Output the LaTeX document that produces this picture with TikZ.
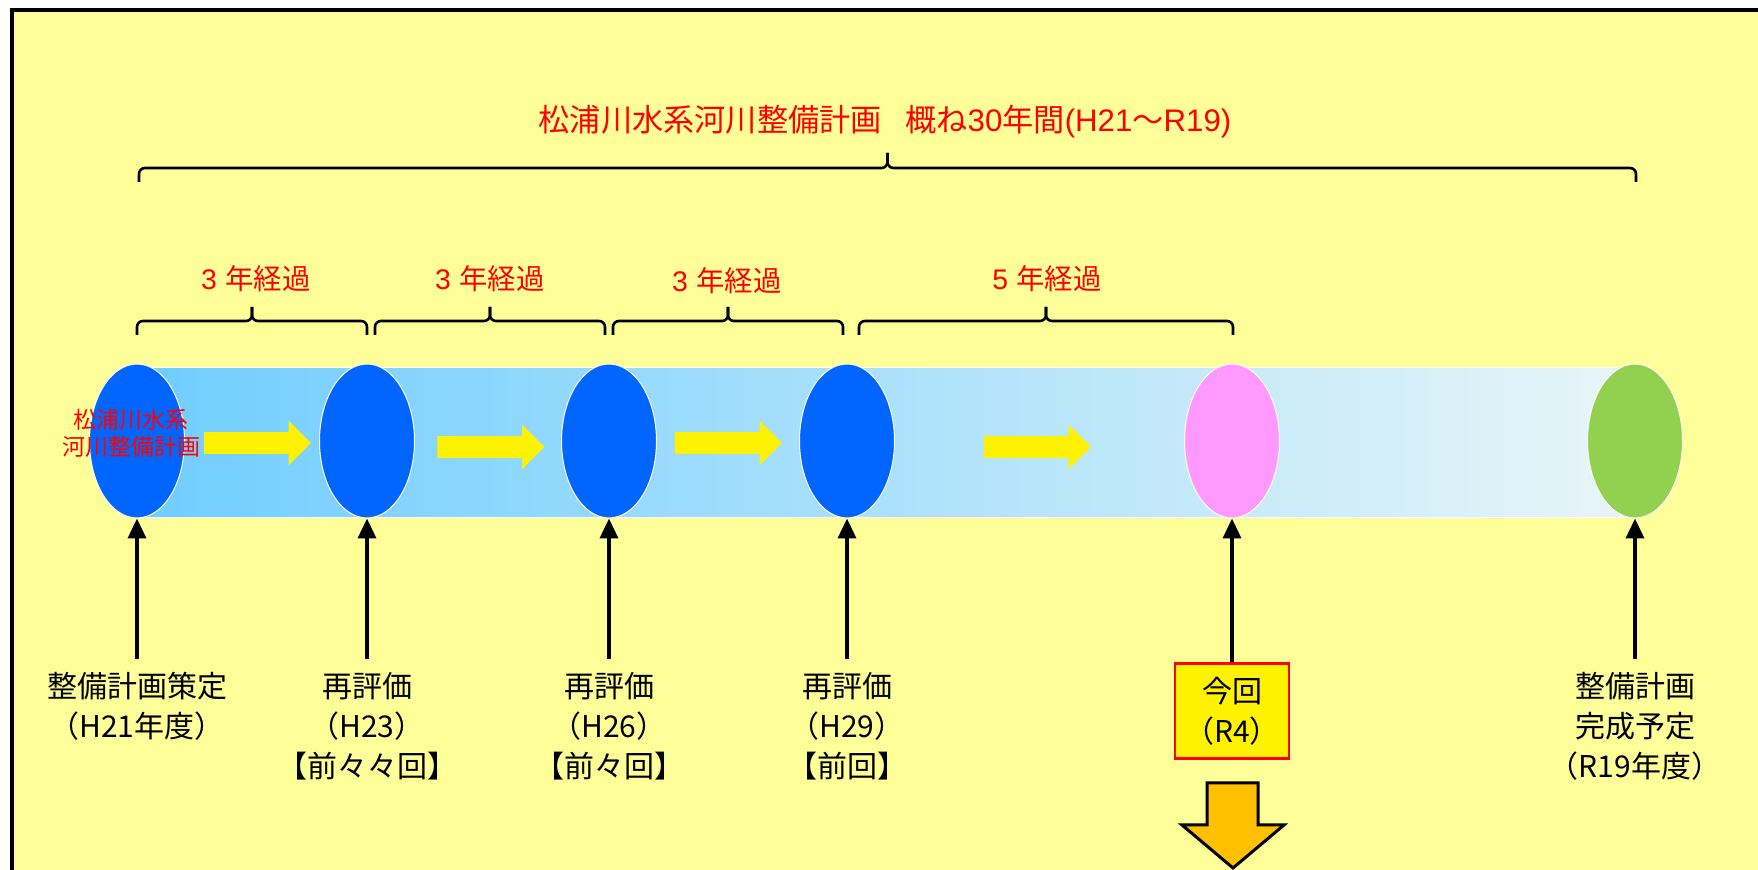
\documentclass[tikz,border=0pt]{standalone}
\usepackage{fontspec}
\setmainfont{Noto Sans CJK JP}
\newfontfamily\latf{Liberation Sans}
\usetikzlibrary{arrows.meta,shapes.geometric,shapes.arrows}
\definecolor{bgyellow}{HTML}{FFFF99}
\definecolor{eblue}{HTML}{0066FF}
\definecolor{epink}{HTML}{FF99FF}
\definecolor{egreen}{HTML}{92D050}
\definecolor{tubeL}{HTML}{70CDFF}
\definecolor{tubeR}{HTML}{E8F5F7}
\definecolor{orangeA}{HTML}{FFC000}
\newcommand\tlbrace[5]{%
  \draw[bracestyle] (#1,#3+#4) -- (#1,#3) -- ({(#1+#2)/2},#3) -- ({(#1+#2)/2},#3-#5);
  \draw[bracestyle] ({(#1+#2)/2},#3-#5) -- ({(#1+#2)/2},#3) -- (#2,#3) -- (#2,#3+#4);}
\begin{document}
\begin{tikzpicture}[x=0.5pt,y=-0.5pt,
  ell/.style={ellipse, minimum width=47.5pt, minimum height=77pt, inner sep=0pt, draw=white, line width=0.5pt},
  yarrow/.style={single arrow, fill=yellow, draw=none, inner xsep=0pt, inner ysep=5.25pt,
     single arrow head extend=5.75pt, minimum height=53.5pt, single arrow tip angle=90},
  varrow/.style={line width=1.8pt, -{Triangle[width=9pt,length=10pt]}},
  lab/.style={font=\fontsize{15pt}{20pt}\selectfont, align=center, inner sep=0pt, anchor=north},
  redlab/.style={text=red, font=\fontsize{14.2pt}{16pt}\selectfont, inner sep=0pt},
  bracestyle/.style={line width=1.3pt, rounded corners=3pt},
  nowbox/.style={draw=red, fill=yellow, line width=1.2pt, minimum width=57pt, minimum height=47.5pt,
     align=center, inner sep=0pt, font=\fontsize{15pt}{20pt}\selectfont}]
\useasboundingbox (0,0) rectangle (1758,870);
\clip (0,0) rectangle (1758,870);
\fill[white] (0,0) rectangle (1758,870);
\draw[line width=2.2pt, fill=bgyellow] (12,10) rectangle (1800,920);

% title and braces
\node[text=red, font=\fontsize{15.6pt}{18pt}\selectfont, inner sep=0pt] (title) at (885,122)
  {松浦川水系河川整備計画\hspace{0.75em}概ね{\latf 30}年間{\latf (H21}～{\latf R19)}};
\tlbrace{139}{1636}{168}{14}{15}
\tlbrace{137}{367}{321}{14}{14}
\tlbrace{375}{605}{321}{14}{14}
\tlbrace{613}{843}{321}{14}{14}
\tlbrace{859}{1233}{321}{14}{14}
\node[redlab] (p1) at (256,279) {{\latf 3}\hspace{0.3em}年経過};
\node[redlab] (p2) at (490,279) {{\latf 3}\hspace{0.3em}年経過};
\node[redlab] (p3) at (727,281) {{\latf 3}\hspace{0.3em}年経過};
\node[redlab] (p4) at (1047,279) {{\latf 5}\hspace{0.3em}年経過};

% tube
\draw[white, line width=0.5pt, left color=tubeL, right color=tubeR] (137,368) rectangle (1635,518);

% ellipses
\node[ell, fill=eblue] (e1) at (137,441) {};
\node[ell, fill=eblue] (e2) at (367,441) {};
\node[ell, fill=eblue] (e3) at (609,441) {};
\node[ell, fill=eblue] (e4) at (847,441) {};
\node[ell, fill=epink] (e5) at (1232,441) {};
\node[ell, fill=egreen] (e6) at (1635,441) {};

\node[text=red, font=\fontsize{11.5pt}{13.5pt}\selectfont, align=center, inner sep=0pt] (t1) at (131,433)
  {松浦川水系\\河川整備計画};

% yellow arrows
\node[yarrow] (ya1) at (252,443) {};
\node[yarrow] (ya2) at (485.5,447) {};
\node[yarrow] (ya3) at (723,443) {};
\node[yarrow] (ya4) at (1032,447) {};

% labels
\node[lab] (l1) at (137,672) {整備計画策定\\（H21年度）};
\node[lab] (l2) at (367,672) {再評価\\（H23）\\【前々々回】};
\node[lab] (l3) at (609,672) {再評価\\（H26）\\【前々回】};
\node[lab] (l4) at (847,672) {再評価\\（H29）\\【前回】};
\node[nowbox] (now) at (1232,711) {今回\\（R4）};
\node[lab] (l6) at (1635,672) {整備計画\\完成予定\\（R19年度）};

% vertical arrows
\coordinate (b1) at (137,659);
\coordinate (b2) at (367,659);
\coordinate (b3) at (609,659);
\coordinate (b4) at (847,659);
\coordinate (b6) at (1635,659);
\draw[varrow] (b1) -- (e1.south);
\draw[varrow] (b2) -- (e2.south);
\draw[varrow] (b3) -- (e3.south);
\draw[varrow] (b4) -- (e4.south);
\draw[varrow] (now.north) -- (e5.south);
\draw[varrow] (b6) -- (e6.south);

% orange down arrow
\draw[line width=1.5pt, fill=orangeA, line join=miter] (1207,783) -- (1258,783) -- (1258,825) -- (1284,825)
  -- (1233,868) -- (1182,825) -- (1207,825) -- cycle;
\end{tikzpicture}
\end{document}
